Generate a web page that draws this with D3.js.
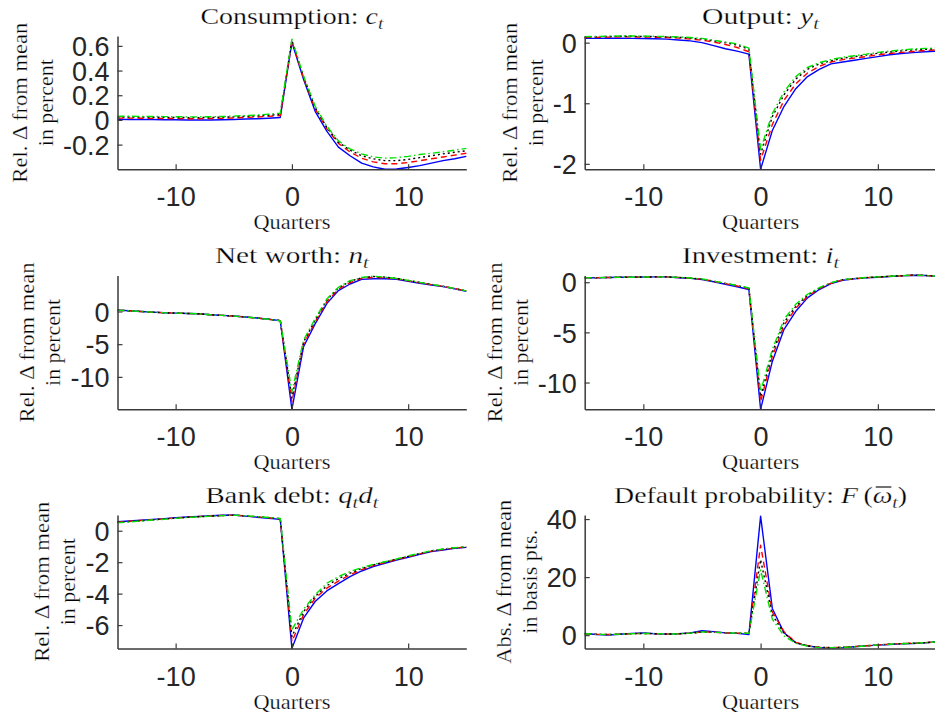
<!DOCTYPE html>
<html><head><meta charset="utf-8">
<script src="https://cdn.jsdelivr.net/npm/d3@7"></script>
<style>body{margin:0;background:#fff} svg{display:block}
.serif{font-family:"Liberation Serif","DejaVu Serif","Times New Roman",serif; stroke:#fff; stroke-width:0.25px}
.sans{font-family:"Liberation Sans",Arial,Helvetica,sans-serif}
</style>
</head><body>
<svg id="chart" width="935" height="720"></svg>
<script>
// ---------------- DATA ----------------
const quarters = [-15,-14,-13,-12,-11,-10,-9,-8,-7,-6,-5,-4,-3,-2,-1,0,1,2,3,4,5,6,7,8,9,10,11,12,13,14,15];
const xTickValues = [-10, 0, 10];
const xTickLabels = ["-10", "0", "10"];

// Consumption
const consBlue  = [0.005,0.004,0.004,0.003,0.002,0.001,0.0,-0.001,0.0,0.002,0.004,0.007,0.010,0.014,0.020, 0.63,0.33,0.07,-0.09,-0.22,-0.29,-0.35,-0.38,-0.40,-0.398,-0.385,-0.37,-0.35,-0.33,-0.315,-0.295];
const consRed   = [0.015,0.015,0.014,0.013,0.012,0.011,0.010,0.010,0.011,0.013,0.016,0.020,0.024,0.029,0.035, 0.64,0.34,0.09,-0.07,-0.19,-0.26,-0.31,-0.34,-0.355,-0.355,-0.345,-0.33,-0.315,-0.30,-0.285,-0.27];
const consBlack = [0.024,0.024,0.023,0.022,0.021,0.020,0.019,0.019,0.020,0.022,0.025,0.029,0.033,0.038,0.045, 0.645,0.35,0.10,-0.06,-0.18,-0.245,-0.29,-0.315,-0.33,-0.33,-0.32,-0.305,-0.29,-0.275,-0.262,-0.25];
const consGreen = [0.030,0.030,0.029,0.028,0.027,0.026,0.025,0.025,0.026,0.028,0.031,0.035,0.040,0.047,0.055, 0.655,0.355,0.11,-0.05,-0.17,-0.235,-0.275,-0.30,-0.31,-0.305,-0.295,-0.28,-0.27,-0.258,-0.245,-0.23];
const consTicks = [-0.2, 0, 0.2, 0.4, 0.6];
const consTickLabels = ["-0.2","0","0.2","0.4","0.6"];
const consLimits = [-0.40, 0.68];

// Output
const outBlue  = [0.07,0.07,0.072,0.072,0.07,0.068,0.064,0.058,0.045,0.03,0.0,-0.05,-0.10,-0.14,-0.19, -2.09,-1.45,-1.05,-0.76,-0.56,-0.44,-0.35,-0.32,-0.29,-0.26,-0.23,-0.20,-0.18,-0.165,-0.15,-0.14];
const outRed   = [0.085,0.088,0.092,0.095,0.095,0.093,0.09,0.085,0.075,0.06,0.04,0.01,-0.03,-0.08,-0.15, -1.94,-1.35,-0.95,-0.68,-0.50,-0.39,-0.32,-0.28,-0.255,-0.23,-0.20,-0.18,-0.16,-0.145,-0.13,-0.12];
const outBlack = [0.095,0.098,0.102,0.105,0.105,0.103,0.1,0.095,0.088,0.075,0.06,0.03,0.0,-0.04,-0.11, -1.84,-1.22,-0.86,-0.60,-0.44,-0.35,-0.30,-0.255,-0.23,-0.205,-0.175,-0.155,-0.135,-0.12,-0.11,-0.10];
const outGreen = [0.10,0.103,0.107,0.11,0.11,0.108,0.105,0.10,0.095,0.085,0.07,0.04,0.01,-0.02,-0.09, -1.76,-1.17,-0.81,-0.56,-0.41,-0.33,-0.28,-0.24,-0.215,-0.19,-0.16,-0.14,-0.12,-0.105,-0.095,-0.09];
const outTicks = [-2, -1, 0];
const outTickLabels = ["-2","-1","0"];
const outLimits = [-2.09, 0.11];

// Net worth
const nwBlue  = [0.2,0.1,0.0,-0.1,-0.2,-0.25,-0.3,-0.35,-0.5,-0.6,-0.7,-0.85,-1.0,-1.2,-1.4, -14.96,-5.4,-1.9,1.2,3.2,4.2,4.9,5.0,5.0,4.9,4.6,4.3,4.05,3.8,3.45,3.1];
const nwRed   = [0.2,0.1,0.0,-0.1,-0.2,-0.25,-0.3,-0.35,-0.5,-0.6,-0.7,-0.85,-1.0,-1.2,-1.4, -13.8,-5.0,-1.6,1.5,3.4,4.4,5.05,5.2,5.15,5.0,4.7,4.4,4.1,3.85,3.5,3.15];
const nwBlack = [0.2,0.1,0.0,-0.1,-0.2,-0.25,-0.3,-0.35,-0.5,-0.6,-0.7,-0.85,-1.0,-1.2,-1.4, -13.2,-4.7,-1.3,1.75,3.6,4.6,5.15,5.35,5.25,5.05,4.75,4.45,4.15,3.85,3.5,3.15];
const nwGreen = [0.2,0.1,0.0,-0.1,-0.2,-0.25,-0.3,-0.35,-0.5,-0.6,-0.7,-0.85,-1.0,-1.2,-1.4, -12.3,-4.4,-1.1,1.9,3.7,4.7,5.2,5.4,5.25,5.05,4.75,4.45,4.15,3.85,3.5,3.15];
const nwTicks = [-10, -5, 0];
const nwTickLabels = ["-10","-5","0"];
const nwLimits = [-14.96, 5.5];

// Investment
const invBlue  = [0.43,0.45,0.47,0.49,0.5,0.52,0.53,0.53,0.45,0.38,0.27,0.05,-0.2,-0.45,-0.73, -12.67,-7.9,-4.7,-2.9,-1.56,-0.73,-0.13,0.2,0.33,0.43,0.5,0.57,0.63,0.7,0.67,0.6];
const invRed   = [0.43,0.45,0.47,0.49,0.5,0.52,0.53,0.53,0.47,0.4,0.3,0.09,-0.14,-0.38,-0.63, -11.9,-7.4,-4.3,-2.6,-1.4,-0.65,-0.1,0.22,0.35,0.45,0.52,0.58,0.64,0.7,0.67,0.6];
const invBlack = [0.43,0.45,0.47,0.49,0.5,0.52,0.53,0.53,0.48,0.41,0.32,0.1,-0.12,-0.35,-0.6, -11.4,-7.0,-4.0,-2.4,-1.3,-0.6,-0.07,0.25,0.37,0.46,0.53,0.59,0.65,0.71,0.68,0.6];
const invGreen = [0.43,0.45,0.47,0.49,0.5,0.52,0.53,0.53,0.48,0.42,0.33,0.1,-0.1,-0.33,-0.57, -10.9,-6.7,-3.7,-2.2,-1.2,-0.55,-0.05,0.26,0.38,0.47,0.53,0.59,0.65,0.71,0.68,0.6];
const invTicks = [-10, -5, 0];
const invTickLabels = ["-10","-5","0"];
const invLimits = [-12.67, 0.67];

// Bank debt
const debtBlue  = [0.57,0.62,0.67,0.72,0.77,0.83,0.87,0.91,0.95,0.98,1.0,0.93,0.86,0.79,0.72, -7.49,-5.56,-4.5,-3.83,-3.36,-2.92,-2.56,-2.28,-2.07,-1.86,-1.69,-1.5,-1.33,-1.23,-1.12,-1.06];
const debtRed   = [0.55,0.6,0.65,0.7,0.75,0.81,0.86,0.9,0.94,0.97,0.99,0.94,0.88,0.82,0.75, -7.05,-5.35,-4.3,-3.65,-3.2,-2.8,-2.48,-2.22,-2.02,-1.83,-1.66,-1.47,-1.3,-1.2,-1.1,-1.04];
const debtBlack = [0.53,0.58,0.63,0.69,0.74,0.8,0.85,0.89,0.93,0.96,0.99,0.94,0.89,0.83,0.77, -6.73,-5.15,-4.18,-3.5,-3.05,-2.7,-2.4,-2.17,-1.99,-1.81,-1.63,-1.45,-1.28,-1.18,-1.09,-1.03];
const debtGreen = [0.5,0.56,0.62,0.68,0.73,0.79,0.84,0.88,0.93,0.96,0.99,0.95,0.9,0.84,0.78, -6.3,-5.0,-4.08,-3.34,-2.92,-2.6,-2.35,-2.14,-1.97,-1.8,-1.6,-1.44,-1.27,-1.16,-1.08,-1.02];
const debtTicks = [-6, -4, -2, 0];
const debtTickLabels = ["-6","-4","-2","0"];
const debtLimits = [-7.49, 1.0];

// Default probability
const defBlue  = [0.57,0.2,0.0,0.3,0.6,0.8,0.5,0.35,0.5,0.8,1.5,1.2,0.8,0.6,0.2, 41.0,9.2,0.8,-2.65,-3.7,-4.25,-4.4,-4.3,-4.0,-3.7,-3.45,-3.2,-3.0,-2.87,-2.65,-2.3];
const defRed   = [0.5,0.3,0.2,0.35,0.5,0.6,0.5,0.4,0.45,0.7,1.1,1.0,0.8,0.7,0.6, 31.0,8.0,1.2,-2.5,-3.6,-4.2,-4.3,-4.2,-3.95,-3.65,-3.4,-3.1,-2.9,-2.8,-2.6,-2.3];
const defBlack = [0.5,0.3,0.2,0.35,0.5,0.6,0.5,0.4,0.45,0.7,1.1,1.0,0.8,0.7,0.6, 26.0,7.0,0.6,-2.6,-3.7,-4.2,-4.3,-4.2,-3.95,-3.65,-3.4,-3.1,-2.9,-2.8,-2.6,-2.3];
const defGreen = [0.5,0.3,0.2,0.35,0.5,0.6,0.5,0.4,0.45,0.7,1.1,1.0,0.8,0.7,0.6, 22.5,5.5,-0.3,-2.8,-3.8,-4.3,-4.35,-4.25,-4.0,-3.7,-3.4,-3.15,-2.95,-2.8,-2.6,-2.3];
const defTicks = [0, 20, 40];
const defTickLabels = ["0","20","40"];
const defLimits = [-4.6, 41.4];

const xLabel = "Quarters";
const relLabel = ["Rel. \u0394 from mean", "in percent"];
const absLabel = ["Abs. \u0394 from mean", "in basis pts."];

// ---------------- STYLE / LAYOUT ----------------
const seriesStyles = [
  {color: "#0000ff", dash: null},
  {color: "#ff0000", dash: "6,4"},
  {color: "#000000", dash: "2,3"},
  {color: "#00e000", dash: "7,3,1.5,3"}
];
const cols = [{x0: 117.5, x1: 466.3}, {x0: 584.7, x1: 936.5}];
const rows = [{y0: 36, y1: 169.3}, {y0: 275.5, y1: 409.3}, {y0: 515, y1: 648.5}];
const ink = "#262626";
// rendered text widths (px) in the reference layout
const titleWidths = [183, 117, 154, 157, 173, 293];
const xLabelWidth = 77;
const yLabelWidths = {"Rel. \u0394 from mean": 160, "in percent": 87, "Abs. \u0394 from mean": 164, "in basis pts.": 104};

const panels = [
  {col:0,row:0,title:[{t:"Consumption: "},{t:"c",i:1},{t:"t",i:1,s:1}], series:[consBlue,consRed,consBlack,consGreen], ticks:consTicks, tickLabels:consTickLabels, lim:consLimits, ylab:relLabel},
  {col:1,row:0,title:[{t:"Output: "},{t:"y",i:1},{t:"t",i:1,s:1}], series:[outBlue,outRed,outBlack,outGreen], ticks:outTicks, tickLabels:outTickLabels, lim:outLimits, ylab:relLabel},
  {col:0,row:1,title:[{t:"Net worth: "},{t:"n",i:1},{t:"t",i:1,s:1}], series:[nwBlue,nwRed,nwBlack,nwGreen], ticks:nwTicks, tickLabels:nwTickLabels, lim:nwLimits, ylab:relLabel},
  {col:1,row:1,title:[{t:"Investment: "},{t:"i",i:1},{t:"t",i:1,s:1}], series:[invBlue,invRed,invBlack,invGreen], ticks:invTicks, tickLabels:invTickLabels, lim:invLimits, ylab:relLabel},
  {col:0,row:2,title:[{t:"Bank debt: "},{t:"q",i:1},{t:"t",i:1,s:1},{t:"d",i:1},{t:"t",i:1,s:1}], series:[debtBlue,debtRed,debtBlack,debtGreen], ticks:debtTicks, tickLabels:debtTickLabels, lim:debtLimits, ylab:relLabel},
  {col:1,row:2,title:[{t:"Default probability: "},{t:"F",i:1},{t:"\u2009("},{t:"\u03C9",i:1,bar:1},{t:"t",i:1,s:1},{t:")"}], series:[defBlue,defRed,defBlack,defGreen], ticks:defTicks, tickLabels:defTickLabels, lim:defLimits, ylab:absLabel}
];

const svg = d3.select("#chart");
const defs = svg.append("defs");

panels.forEach((p, pi) => {
  const c = cols[p.col], r = rows[p.row];
  const x = d3.scaleLinear().domain([-15, 15]).range([c.x0, c.x1]);
  const y = d3.scaleLinear().domain(p.lim).range([r.y1, r.y0]);
  const g = svg.append("g");
  const cx = (c.x0 + c.x1) / 2, cy = (r.y0 + r.y1) / 2;

  defs.append("clipPath").attr("id", "clip" + pi).append("rect")
    .attr("x", c.x0 - 1).attr("y", r.y0 - 1.5).attr("width", c.x1 - c.x0 + 2).attr("height", r.y1 - r.y0 + 3);

  // lines
  const line = d3.line().x((d, i) => x(quarters[i])).y(d => y(d));
  const lg = g.append("g").attr("clip-path", `url(#clip${pi})`);
  p.series.forEach((s, si) => {
    const st = seriesStyles[si];
    lg.append("path").datum(s).attr("d", line)
      .attr("fill", "none").attr("stroke", st.color).attr("stroke-width", 1.4)
      .attr("stroke-dasharray", st.dash).attr("stroke-linejoin", "round");
  });

  // axes
  const xAxis = d3.axisBottom(x).tickValues(xTickValues).tickFormat((d, i) => xTickLabels[i])
    .tickSize(-5).tickSizeOuter(0).tickPadding(18);
  const gx = g.append("g").attr("transform", `translate(0,${r.y1})`).call(xAxis);
  const yAxis = d3.axisLeft(y).tickValues(p.ticks).tickFormat((d, i) => p.tickLabels[i])
    .tickSize(-5).tickSizeOuter(0).tickPadding(8);
  const gy = g.append("g").attr("transform", `translate(${c.x0},0)`).call(yAxis);
  [gx, gy].forEach(ax => {
    ax.attr("font-family", null).attr("font-size", null);
    ax.select(".domain").attr("stroke", "#3a3a3a").attr("stroke-width", 1.5);
    ax.selectAll(".tick line").attr("stroke", "#3a3a3a").attr("stroke-width", 1.2);
    ax.selectAll(".tick text").attr("class", "sans").attr("fill", ink).style("font-size", "27px");
  });
  gy.selectAll(".tick text").attr("dy", "0.36em");

  // title
  const titleY = r.y0 - 12.5;
  const tt = g.append("text").attr("class", "serif").attr("x", cx).attr("y", titleY)
    .attr("text-anchor", "middle").attr("fill", "#000").style("font-size", "24px")
    .attr("textLength", titleWidths[pi]).attr("lengthAdjust", "spacingAndGlyphs");
  let shifted = false, charIndex = 0, barIndex = -1;
  p.title.forEach(part => {
    const ts = tt.append("tspan").text(part.t);
    if (part.bar) barIndex = charIndex;
    charIndex += part.t.length;
    if (part.i) ts.style("font-style", "italic");
    if (part.s) { ts.style("font-size", "17px").attr("dy", 5); shifted = true; }
    else if (shifted) { ts.attr("dy", -5); shifted = false; }
  });
  if (barIndex >= 0) {
    const ext = tt.node().getExtentOfChar(barIndex);
    g.append("line").attr("x1", ext.x + 3).attr("x2", ext.x + ext.width - 1)
      .attr("y1", titleY - 15.5).attr("y2", titleY - 15.5)
      .attr("stroke", "#000").attr("stroke-width", 1.1);
  }

  // x label
  g.append("text").attr("class", "serif").attr("x", cx).attr("y", r.y1 + 60).attr("text-anchor", "middle")
    .attr("fill", "#000").style("font-size", "20px")
    .attr("textLength", xLabelWidth).attr("lengthAdjust", "spacingAndGlyphs")
    .text(xLabel);

  // y label: placed left of the widest tick label
  let minX = Infinity;
  gy.selectAll(".tick text").each(function() {
    const b = this.getBBox();
    minX = Math.min(minX, c.x0 + b.x);
  });
  const lines = p.ylab;
  [[lines[0], minX - 36], [lines[1], minX - 10]].forEach(([txt, bx]) => {
    g.append("text").attr("class", "serif").attr("transform", `translate(${bx},${cy}) rotate(-90)`)
      .attr("text-anchor", "middle").attr("fill", "#000").style("font-size", "20px")
      .attr("textLength", yLabelWidths[txt]).attr("lengthAdjust", "spacingAndGlyphs")
      .text(txt);
  });
});
</script>
</body></html>
